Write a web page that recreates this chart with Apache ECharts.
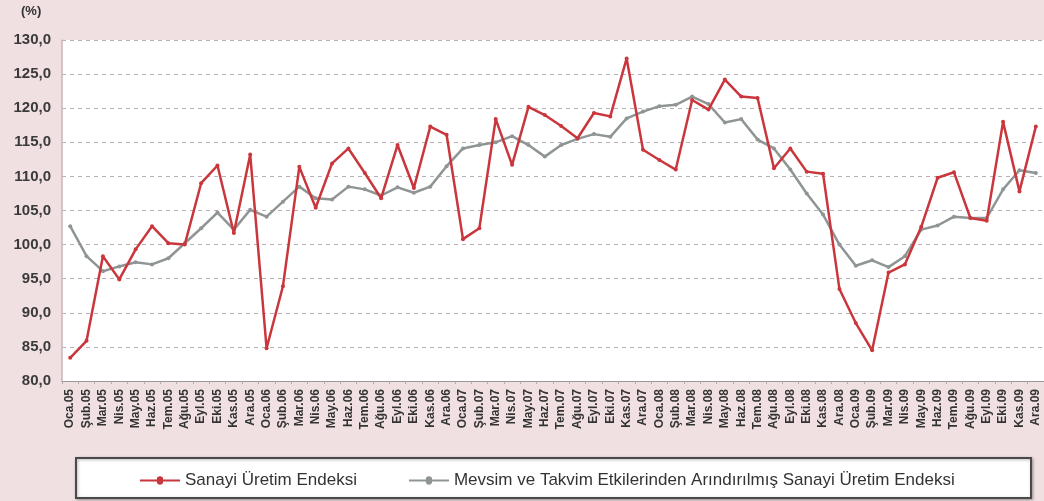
<!DOCTYPE html>
<html>
<head>
<meta charset="utf-8">
<script src="https://cdn.jsdelivr.net/npm/echarts@6/dist/echarts.min.js"></script>
<style>
  html, body { margin: 0; padding: 0; background: #f0e0e2; }
  #chart { width: 1044px; height: 501px; }
</style>
</head>
<body>
<div id="chart"></div>
<script>
var months = ['Oca', 'Şub', 'Mar', 'Nis', 'May', 'Haz', 'Tem', 'Ağu', 'Eyl', 'Eki', 'Kas', 'Ara'];
var years = ['05', '06', '07', '08', '09'];
var categories = [];
years.forEach(function (y) {
  months.forEach(function (m) { categories.push(m + '.' + y); });
});

var sanayi = [
  83.4, 85.9, 98.3, 94.9, 99.3, 102.7, 100.2, 100.0, 109.0, 111.6, 101.7, 113.2,
  84.8, 93.9, 111.4, 105.4, 111.9, 114.1, 110.5, 106.8, 114.6, 108.3, 117.3, 116.1,
  100.8, 102.4, 118.4, 111.7, 120.2, 119.0, 117.4, 115.6, 119.3, 118.8, 127.3, 113.9,
  112.4, 111.0, 121.2, 119.8, 124.2, 121.7, 121.5, 111.2, 114.1, 110.7, 110.4, 93.5,
  88.5, 84.5, 95.9, 97.1, 102.6, 109.8, 110.6, 103.9, 103.5, 118.0, 107.8, 117.3
];
var arindirilmis = [
  102.7, 98.3, 96.1, 96.8, 97.4, 97.1, 98.0, 100.2, 102.4, 104.7, 102.2, 105.1,
  104.1, 106.3, 108.5, 106.8, 106.6, 108.5, 108.1, 107.2, 108.4, 107.6, 108.5, 111.5,
  114.1, 114.6, 115.0, 115.9, 114.6, 112.9, 114.6, 115.5, 116.2, 115.8, 118.5, 119.5,
  120.3, 120.5, 121.7, 120.6, 117.9, 118.4, 115.4, 114.1, 111.0, 107.5, 104.4, 100.0,
  96.9, 97.7, 96.7, 98.3, 102.2, 102.8, 104.1, 103.9, 103.9, 108.1, 110.9, 110.5
];
var seriesNames = ['Sanayi Üretim Endeksi', 'Mevsim ve Takvim Etkilerinden Arındırılmış Sanayi Üretim Endeksi'];

// line with a dot in the middle, for the legend
var legendIcon = 'path://M0,4L16,4A3,3,0,0,1,22,4L38,4L38,6L22,6A3,3,0,0,1,16,6L0,6Z';

var chart = echarts.init(document.getElementById('chart'));
var option = {
  backgroundColor: '#f0e0e2',
  textStyle: { fontFamily: 'Liberation Sans, Arial, sans-serif' },
  animation: false,
  graphic: [
    {
      type: 'rect',
      left: 75, top: 457,
      shape: { width: 955, height: 40 },
      style: { fill: '#fff', stroke: '#4a4a4a', lineWidth: 2, shadowColor: 'rgba(0,0,0,0.3)', shadowBlur: 3, shadowOffsetX: 1, shadowOffsetY: 1 }
    },
    {
      type: 'text',
      left: 21, top: 5,
      style: { text: '(%)', fill: '#333', font: 'bold 13px Liberation Sans' }
    }
  ],
  legend: {
    left: 135, top: 467,
    itemWidth: 40, itemHeight: 10, itemGap: 52,
    textStyle: { fontSize: 17, color: '#333' },
    data: [
      { name: seriesNames[0], icon: legendIcon },
      { name: seriesNames[1], icon: legendIcon }
    ]
  },
  grid: {
    left: 62, top: 40, width: 984, height: 341,
    show: true, backgroundColor: '#fff', borderWidth: 0
  },
  xAxis: {
    type: 'category',
    data: categories,
    boundaryGap: true,
    axisLine: { lineStyle: { color: '#999', width: 1 } },
    axisTick: { show: true, length: 3, lineStyle: { color: '#aaa' } },
    axisLabel: { rotate: 90, interval: 0, fontSize: 12, fontWeight: 'bold', color: '#333', margin: 8 }
  },
  yAxis: {
    type: 'value',
    min: 80, max: 130, interval: 5,
    axisLine: { show: true, lineStyle: { color: '#c9b3b9', width: 1.5 } },
    axisTick: { show: false },
    axisLabel: {
      fontSize: 15, fontWeight: 'bold', color: '#3a3a3a', margin: 11,
      formatter: function (v) { return v.toFixed(1).replace('.', ','); }
    },
    splitLine: { lineStyle: { color: '#b8b0b5', type: [4, 4], width: 1 } }
  },
  series: [
    {
      name: seriesNames[1],
      type: 'line',
      data: arindirilmis,
      symbol: 'circle', symbolSize: 4,
      lineStyle: { color: '#8f9594', width: 2.5 },
      itemStyle: { color: '#8f9594' },
      z: 2
    },
    {
      name: seriesNames[0],
      type: 'line',
      data: sanayi,
      symbol: 'circle', symbolSize: 4,
      lineStyle: { color: '#c9363b', width: 2.5 },
      itemStyle: { color: '#c9363b' },
      z: 3
    }
  ]
};
chart.setOption(option);
</script>
</body>
</html>
